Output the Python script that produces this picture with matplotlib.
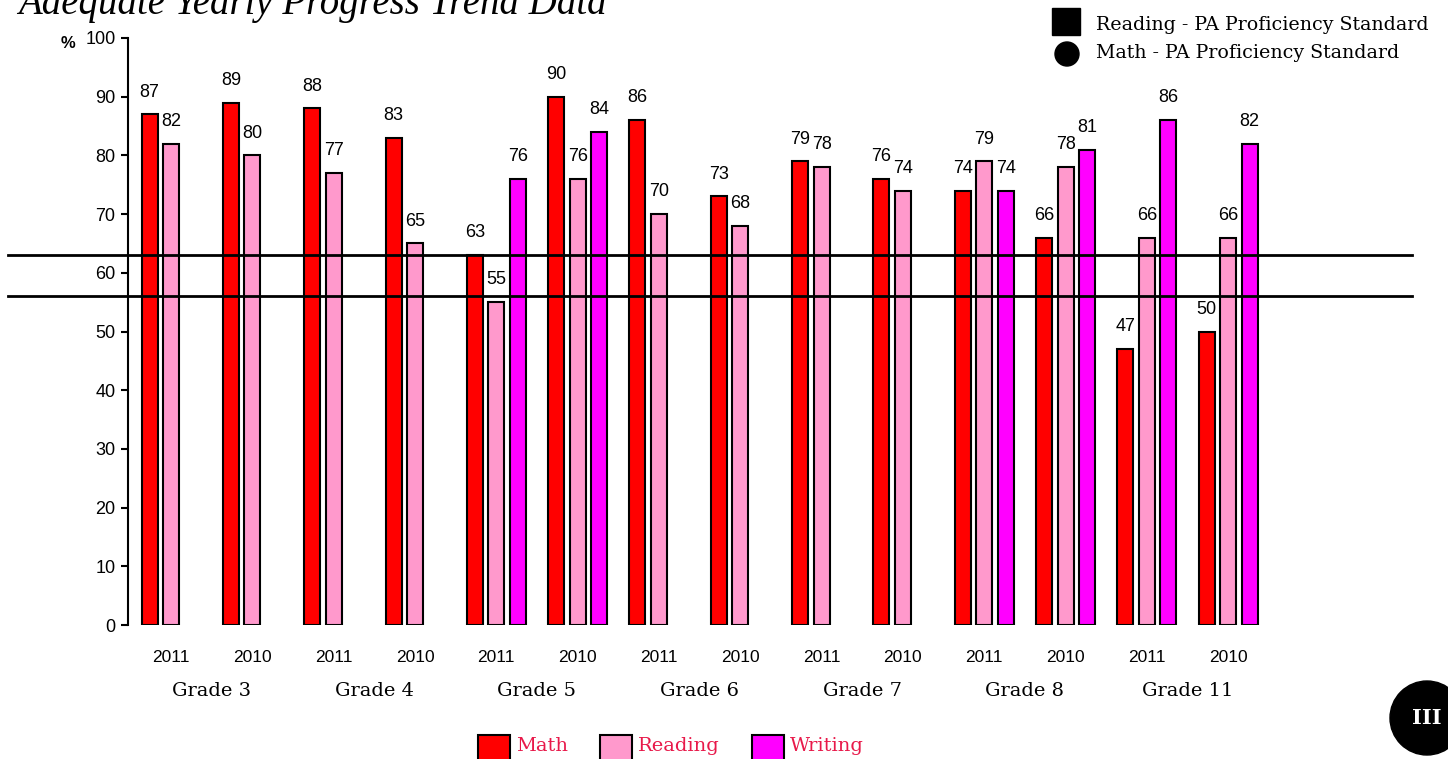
import numpy as np
import matplotlib.pyplot as plt
from matplotlib.patches import Circle

# Bars: one group per grade/year, slots for Math, Reading, Writing
grades = ["Grade 3", "Grade 4", "Grade 5", "Grade 6", "Grade 7", "Grade 8", "Grade 11"]
years = ["2011", "2010"] * 7
math = [87, 89, 88, 83, 63, 90, 86, 73, 79, 76, 74, 66, 47, 50]
reading = [82, 80, 77, 65, 55, 76, 70, 68, 78, 74, 79, 78, 66, 66]
writing = [None, None, None, None, 76, 84, None, None, None, None, 74, 81, 86, 82]

# proficiency standard lines
standards = [63, 56]

series_names = ["Math", "Reading", "Writing"]
series_colors = ["#FF0000", "#FF99CC", "#FF00FF"]

fig = plt.figure(figsize=(14.48, 7.59), dpi=100)
ax = fig.add_axes([128 / 1448, 134 / 759, 1284 / 1448, 587 / 759])

x = np.arange(len(years))
step = 0.264
width = 0.197
for k, (vals, col) in enumerate(zip([math, reading, writing], series_colors)):
    for i, v in enumerate(vals):
        if v is None:
            continue
        xp = x[i] + (k - 1) * step
        ax.bar(xp, v, width, color=col, edgecolor="black", linewidth=1.5, zorder=2)
        ax.annotate(str(v), (xp, v), xytext=(0, 16), textcoords="offset points",
                    ha="center", va="center", fontsize=13, family="Liberation Sans")

for s in standards:
    ax.axhline(s, xmin=-0.0935, xmax=1, color="black", linewidth=2, clip_on=False, zorder=3)

ax.set_xlim(-0.529, 15.26)
ax.set_ylim(0, 100)
ax.set_yticks(range(0, 101, 10))
ax.set_xticks(x)
ax.set_xticklabels(years)
ax.tick_params(axis="x", length=0, pad=18, labelsize=12.5)
ax.tick_params(axis="y", direction="out", length=5, width=1.5, labelsize=13, pad=4)
for lab in ax.get_xticklabels() + ax.get_yticklabels():
    lab.set_family("Liberation Sans")
for sp in ["top", "right", "bottom"]:
    ax.spines[sp].set_visible(False)
ax.spines["left"].set_linewidth(1.5)

# grade labels under year pairs
for g, name in enumerate(grades):
    ax.text(2 * g + 0.5, -11.2, name, ha="center", va="center", fontsize=14,
            family="DejaVu Serif")

fig.text(68 / 1448, 1 - 44 / 759, "%", fontsize=12, fontweight="bold",
         family="Liberation Sans", ha="center", va="center")

# title, cut at the top like the source
fig.text(18 / 1448, 1 - 4 / 759, "Adequate Yearly Progress Trend Data", fontsize=28,
         style="italic", family="Liberation Serif", ha="left", va="center")

# top-right legend for the standard lines
fig.patches.append(plt.Rectangle((1052 / 1448, 1 - 35 / 759), 28 / 1448, 27 / 759,
                                 transform=fig.transFigure, color="black"))
fig.patches.append(Circle((10.67, 7.59 - 0.54), 0.12,
                          transform=fig.dpi_scale_trans, color="black"))
fig.text(1096 / 1448, 1 - 25 / 759, "Reading - PA Proficiency Standard", fontsize=13.7,
         family="DejaVu Serif", ha="left", va="center")
fig.text(1096 / 1448, 1 - 53 / 759, "Math - PA Proficiency Standard", fontsize=13.7,
         family="DejaVu Serif", ha="left", va="center")

# bottom legend for series
leg_x = [478, 600, 752]
for lx, name, col in zip(leg_x, series_names, series_colors):
    fig.patches.append(plt.Rectangle((lx / 1448, -5 / 759), 32 / 1448, 29 / 759,
                                     transform=fig.transFigure, facecolor=col,
                                     edgecolor="black", linewidth=1.5))
    fig.text((lx + 38) / 1448, 1 - 746 / 759, name, fontsize=14, color="#E8194A",
             family="DejaVu Serif", ha="left", va="center")

# "III" badge
badge = Circle((14.27, 7.59 - 7.18), 0.37, transform=fig.dpi_scale_trans, color="black")
fig.patches.append(badge)
fig.text(1427 / 1448, 1 - 718 / 759, "III", fontsize=15, fontweight="bold", color="white",
         family="DejaVu Serif", ha="center", va="center")

fig.savefig("out.png", dpi=100)
